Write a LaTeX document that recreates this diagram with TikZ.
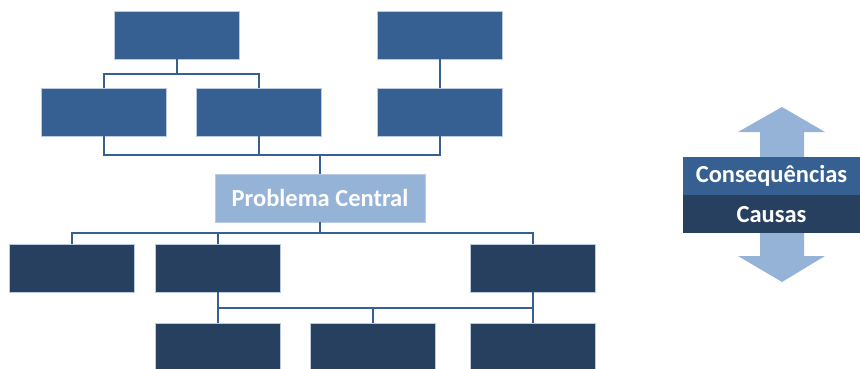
\documentclass[tikz,border=0pt]{standalone}
\usepackage{fontspec}
\setmainfont{Carlito}
\usepackage{tikz}
\definecolor{effectblue}{RGB}{54,96,146}
\definecolor{causeblue}{RGB}{39,64,96}
\definecolor{coreblue}{RGB}{149,179,215}
\definecolor{boxedge}{RGB}{185,203,228}
\tikzstyle{link}=[line width=2pt, draw=effectblue]
\tikzstyle{effect} = [rectangle, fill=effectblue, draw=boxedge, line width=0.6pt, minimum width=125pt, minimum height=48pt, inner sep=0pt]
\tikzstyle{cause} = [effect, fill=causeblue]
\tikzstyle{core} = [effect, fill=coreblue, minimum width=210pt, text=white, font=\bfseries\fontsize{24.5}{28}\selectfont]
\tikzstyle{legend} = [rectangle, minimum width=177pt, minimum height=38pt, inner sep=0pt, text=white, font=\bfseries\fontsize{24.5}{28}\selectfont]

\begin{document}
\begin{tikzpicture}[x=1pt, y=-1pt]
            \useasboundingbox (0, 0) rectangle (860, 369);

            % consequencias
            \node[effect] (eff11) at (176.5, 35) {};
            \node[effect] (eff12) at (439.5, 35) {};
            \node[effect] (eff21) at (103.5, 112) {};
            \node[effect] (eff22) at (258.5, 112) {};
            \node[effect] (eff23) at (439.5, 112) {};

            \node[core] (problema) at (320, 198) {Problema Central};

            % causas
            \node[cause] (cau11) at (72, 268) {};
            \node[cause] (cau12) at (217.5, 268) {};
            \node[cause] (cau13) at (532.5, 268) {};
            \node[cause] (cau21) at (217.5, 347) {};
            \node[cause] (cau22) at (373, 347) {};
            \node[cause] (cau23) at (532.5, 347) {};

            \draw[link] (eff11.south) -- ++(0, 15) -| (eff21.north);
            \draw[link] (eff11.south) -- ++(0, 15) -| (eff22.north);
            \draw[link] (eff12.south) -- (eff23.north);
            \draw[link] (eff21.south) -- ++(0, 19) -| (eff23.south);
            \draw[link] (eff22.south) -- ++(0, 19);
            \draw[link] (problema.north) -- ++(0, -19);

            \draw[link] (problema.south) -- ++(0, 11) -| (cau11.north);
            \draw[link] (problema.south) -- ++(0, 11) -| (cau13.north);
            \draw[link] (cau12.north) -- ++(0, -11);
            \draw[link] (cau12.south) -- (cau21.north);
            \draw[link] (cau12.south) -- ++(0, 16) -| (cau22.north);
            \draw[link] (cau12.south) -- ++(0, 16) -| (cau23.north);
            \draw[link] (cau13.south) -- (cau23.north);

            % legenda
            \fill[coreblue] (760, 132) -- (738, 132) -- (782, 107) -- (825, 132)
                -- (804, 132) -- (804, 256) -- (825, 256) -- (782, 282)
                -- (738, 256) -- (760, 256) -- cycle;
            \node[legend, fill=effectblue] (conseq) at (771.5, 176) {Consequências};
            \node[legend, fill=causeblue, anchor=north] (causas) at (conseq.south) {Causas};
        \end{tikzpicture}
\end{document}
